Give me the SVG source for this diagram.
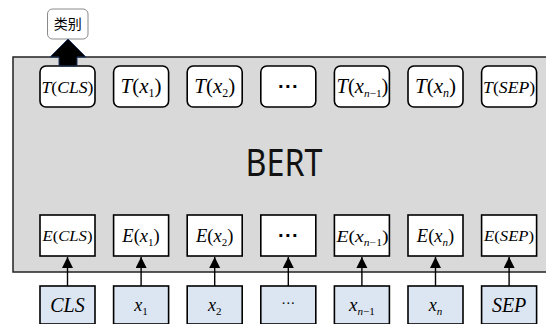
<svg xmlns="http://www.w3.org/2000/svg" width="546" height="324" viewBox="0 0 546 324">
<defs>
<style>
.m{font-family:"Liberation Serif",serif;fill:#000;text-anchor:middle}
.i{font-style:italic}
.tb{fill:#fff;stroke:#000;stroke-width:1.6}
.eb{fill:#fff;stroke:#000;stroke-width:1.6}
.ib{fill:#dce6f2;stroke:#000;stroke-width:1.6}
.conn{stroke:#000;stroke-width:1.4;fill:none}
.dots{font-family:"DejaVu Sans",sans-serif;font-weight:bold;text-anchor:middle;fill:#000}
</style>
<marker id="ah" markerUnits="userSpaceOnUse" markerWidth="11" markerHeight="12" refX="11" refY="5.5" orient="auto">
<path d="M0,0 L11,5.5 L0,11 Z" fill="#000"/>
</marker>
</defs>
<rect width="546" height="324" fill="#fff"/>
<g id="bert">
<rect x="13" y="57" width="540" height="215" fill="#d9d9d9" stroke="#222" stroke-width="1.5"/>
<text x="284" y="176" font-family="'Noto Sans','Open Sans',sans-serif" font-size="38" textLength="77" lengthAdjust="spacingAndGlyphs" text-anchor="middle" fill="#111">BERT</text>
</g>
<g id="label">
<rect x="47.5" y="9" width="40.5" height="30" rx="5" fill="#fff" stroke="#8a8a8a" stroke-width="1"/>
<text x="67.75" y="29" font-family="'Noto Sans CJK SC',sans-serif" font-size="14" text-anchor="middle" fill="#000">类别</text>
</g>
<g id="t-cls"><rect class="tb" x="40" y="66" width="55" height="41" rx="6"/><text class="m" x="67.5" y="93" font-size="17.5" textLength="52" lengthAdjust="spacingAndGlyphs"><tspan class="i">T</tspan>(<tspan class="i">CLS</tspan>)</text></g>
<g id="t-x1"><rect class="tb" x="113.6" y="66" width="55" height="41" rx="6"/><text class="m" x="141" y="93" font-size="21"><tspan class="i">T</tspan>(<tspan class="i">x</tspan><tspan font-size="12" dy="4">1</tspan><tspan dy="-4">)</tspan></text></g>
<g id="t-x2"><rect class="tb" x="187.2" y="66" width="55" height="41" rx="6"/><text class="m" x="214.7" y="93" font-size="21"><tspan class="i">T</tspan>(<tspan class="i">x</tspan><tspan font-size="12" dy="4">2</tspan><tspan dy="-4">)</tspan></text></g>
<g id="t-dots"><rect class="tb" x="260.8" y="66" width="55" height="41" rx="6"/><text class="dots" x="288.3" y="92" font-size="16" letter-spacing="1">···</text></g>
<g id="t-xn1"><rect class="tb" x="334.4" y="66" width="55" height="41" rx="6"/><text class="m" x="362.5" y="93" font-size="20" textLength="52" lengthAdjust="spacingAndGlyphs"><tspan class="i">T</tspan>(<tspan class="i">x</tspan><tspan font-size="11" dy="4"><tspan class="i">n</tspan>−1</tspan><tspan dy="-4">)</tspan></text></g>
<g id="t-xn"><rect class="tb" x="408" y="66" width="55" height="41" rx="6"/><text class="m" x="435.5" y="93" font-size="21"><tspan class="i">T</tspan>(<tspan class="i">x</tspan><tspan font-size="12" dy="4" class="i">n</tspan><tspan dy="-4">)</tspan></text></g>
<g id="t-sep"><rect class="tb" x="481.6" y="66" width="55" height="41" rx="6"/><text class="m" x="509.1" y="93" font-size="17.5" textLength="52" lengthAdjust="spacingAndGlyphs"><tspan class="i">T</tspan>(<tspan class="i">SEP</tspan>)</text></g>
<g id="e-cls"><rect class="eb" x="40" y="215" width="55" height="41"/><text class="m" x="67.5" y="241" font-size="14.5" textLength="50" lengthAdjust="spacingAndGlyphs"><tspan class="i">E</tspan>(<tspan class="i">CLS</tspan>)</text></g>
<g id="e-x1"><rect class="eb" x="113.6" y="215" width="55" height="41"/><text class="m" x="141" y="242" font-size="18.5"><tspan class="i">E</tspan>(<tspan class="i">x</tspan><tspan font-size="11" dy="4">1</tspan><tspan dy="-4">)</tspan></text></g>
<g id="e-x2"><rect class="eb" x="187.2" y="215" width="55" height="41"/><text class="m" x="214.7" y="242" font-size="18.5"><tspan class="i">E</tspan>(<tspan class="i">x</tspan><tspan font-size="11" dy="4">2</tspan><tspan dy="-4">)</tspan></text></g>
<g id="e-dots"><rect class="eb" x="260.8" y="215" width="55" height="41"/><text class="dots" x="288.3" y="241" font-size="16" letter-spacing="1">···</text></g>
<g id="e-xn1"><rect class="eb" x="334.4" y="215" width="55" height="41"/><text class="m" x="362.5" y="242" font-size="17" textLength="52" lengthAdjust="spacingAndGlyphs"><tspan class="i">E</tspan>(<tspan class="i">x</tspan><tspan font-size="10" dy="4"><tspan class="i">n</tspan>−1</tspan><tspan dy="-4">)</tspan></text></g>
<g id="e-xn"><rect class="eb" x="408" y="215" width="55" height="41"/><text class="m" x="435.5" y="242" font-size="18.5"><tspan class="i">E</tspan>(<tspan class="i">x</tspan><tspan font-size="11" dy="4" class="i">n</tspan><tspan dy="-4">)</tspan></text></g>
<g id="e-sep"><rect class="eb" x="481.6" y="215" width="55" height="41"/><text class="m" x="509.1" y="241" font-size="15" textLength="50" lengthAdjust="spacingAndGlyphs"><tspan class="i">E</tspan>(<tspan class="i">SEP</tspan>)</text></g>
<g id="in-cls"><rect class="ib" x="40" y="286" width="55" height="38"/><text class="m i" x="67.5" y="312" font-size="20">CLS</text></g>
<g id="in-x1"><rect class="ib" x="113.6" y="286" width="55" height="38"/><text class="m" x="141" y="311" font-size="18"><tspan class="i">x</tspan><tspan font-size="11" dy="4">1</tspan></text></g>
<g id="in-x2"><rect class="ib" x="187.2" y="286" width="55" height="38"/><text class="m" x="214.7" y="311" font-size="18"><tspan class="i">x</tspan><tspan font-size="11" dy="4">2</tspan></text></g>
<g id="in-dots"><rect class="ib" x="260.8" y="286" width="55" height="38"/><text class="m" x="288.3" y="308" font-size="14">···</text></g>
<g id="in-xn1"><rect class="ib" x="334.4" y="286" width="55" height="38"/><text class="m" x="361.9" y="311" font-size="19"><tspan class="i">x</tspan><tspan font-size="11" dy="4"><tspan class="i">n</tspan>−1</tspan></text></g>
<g id="in-xn"><rect class="ib" x="408" y="286" width="55" height="38"/><text class="m" x="435.5" y="311" font-size="18"><tspan class="i">x</tspan><tspan font-size="11" dy="4" class="i">n</tspan></text></g>
<g id="in-sep"><rect class="ib" x="481.6" y="286" width="55" height="38"/><text class="m i" x="509.1" y="312" font-size="20">SEP</text></g>
<g id="connectors">
<path d="M59,66 V57 H50 L68,39 L86,57 H77 V66 Z" fill="#000" stroke="#1f3864" stroke-width="1"/>
<line class="conn" x1="67.5" y1="286" x2="67.5" y2="257" marker-end="url(#ah)"/>
<line class="conn" x1="141.1" y1="286" x2="141.1" y2="257" marker-end="url(#ah)"/>
<line class="conn" x1="214.7" y1="286" x2="214.7" y2="257" marker-end="url(#ah)"/>
<line class="conn" x1="288.3" y1="286" x2="288.3" y2="257" marker-end="url(#ah)"/>
<line class="conn" x1="361.9" y1="286" x2="361.9" y2="257" marker-end="url(#ah)"/>
<line class="conn" x1="435.5" y1="286" x2="435.5" y2="257" marker-end="url(#ah)"/>
<line class="conn" x1="509.1" y1="286" x2="509.1" y2="257" marker-end="url(#ah)"/>
</g>
</svg>
